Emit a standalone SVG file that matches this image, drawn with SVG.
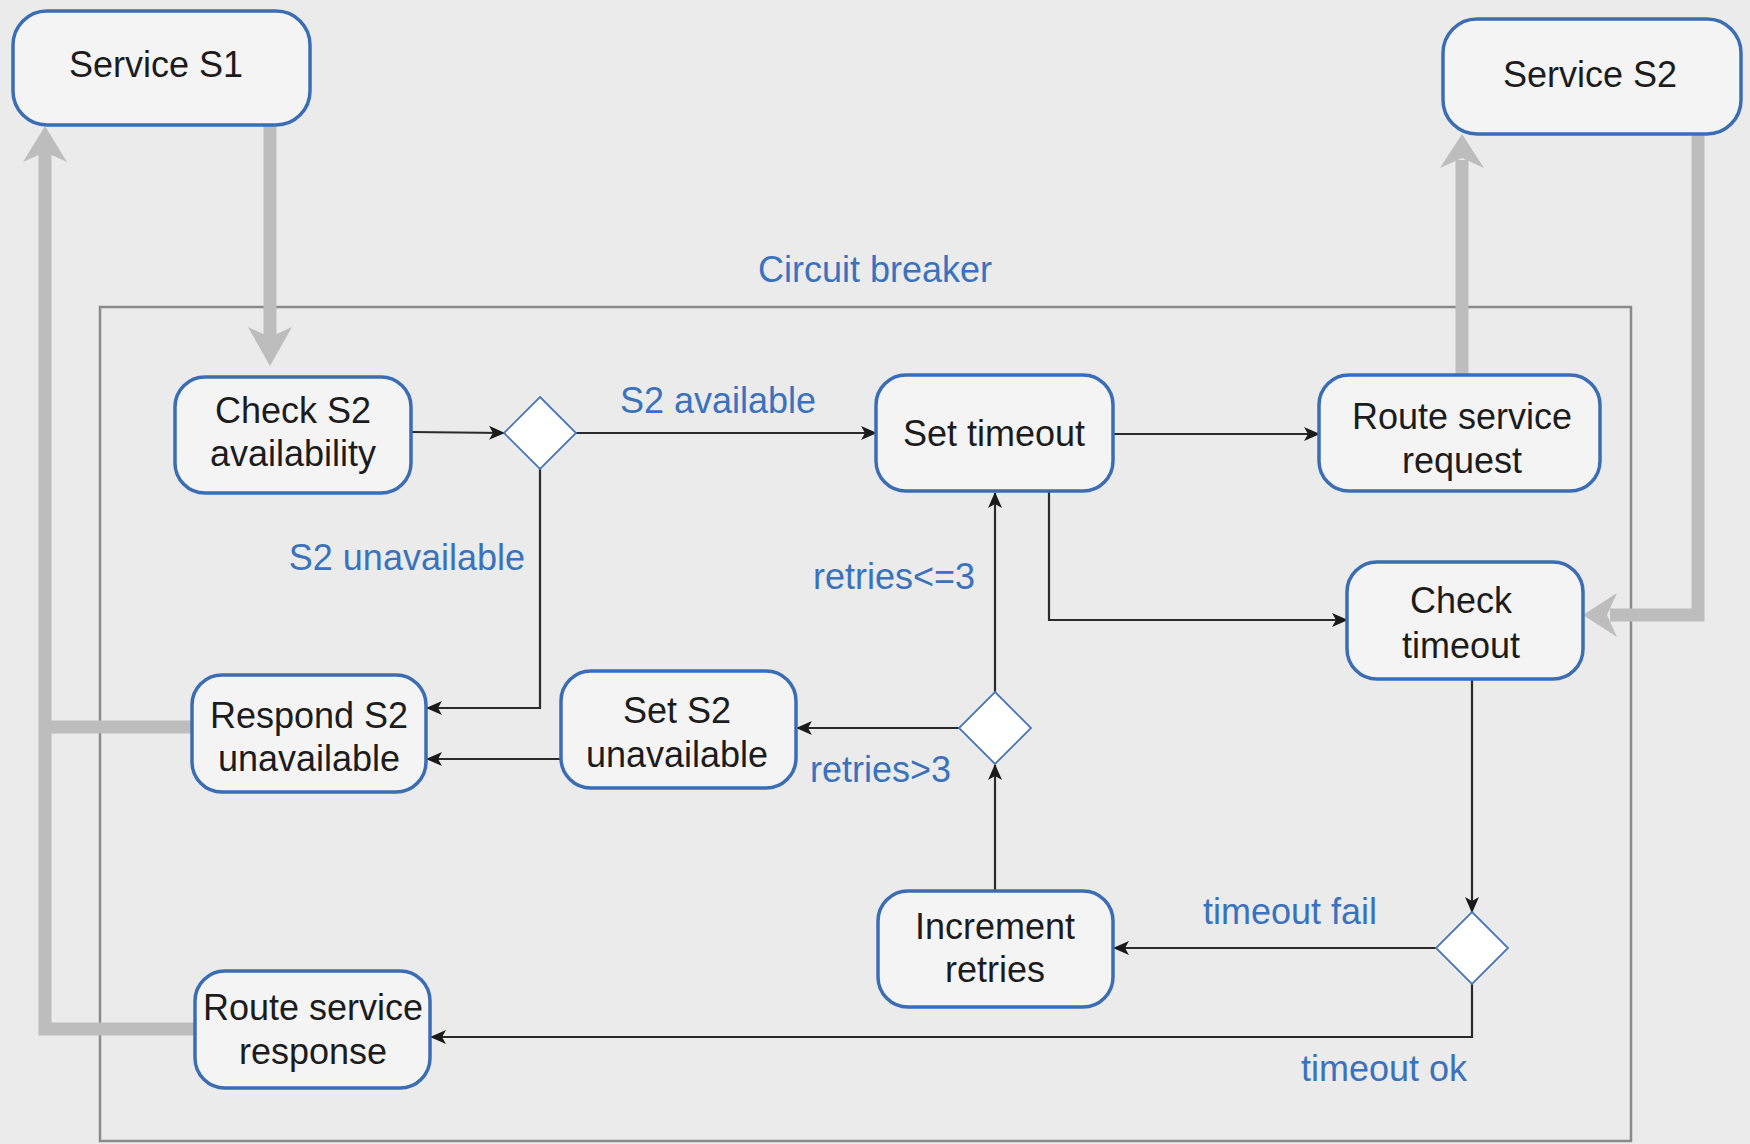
<svg xmlns="http://www.w3.org/2000/svg" width="1750" height="1144" viewBox="0 0 1750 1144">
<style>
.box{fill:#f4f4f5;stroke:#3b6db5;stroke-width:3.5}
.dia{fill:#ffffff;stroke:#4a78b8;stroke-width:1.8}
.t{font-family:"Liberation Sans",Arial,sans-serif;font-size:36px;fill:#1c1c1c;text-anchor:middle}
.lb{font-family:"Liberation Sans",Arial,sans-serif;font-size:36px;fill:#3a72bd}
.c{fill:none;stroke:#2a2a2a;stroke-width:2.2}
.g{fill:none;stroke:#bdbdbd;stroke-width:13}
.gh{fill:#bdbdbd}
</style>
<defs>
<marker id="ah" markerWidth="16" markerHeight="14" refX="15" refY="7" orient="auto" markerUnits="userSpaceOnUse">
<path d="M0,0 L16,7 L0,14 L4,7 z" fill="#1a1a1a"/>
</marker>
</defs>
<rect width="1750" height="1144" fill="#ebebeb"/>
<rect x="100" y="307" width="1531" height="834" fill="none" stroke="#8a8a8a" stroke-width="2.5"/>
<text class="lb" x="875" y="282" text-anchor="middle">Circuit breaker</text>

<g id="gray-flows">
<line class="g" x1="270" y1="125" x2="270" y2="340"/>
<polygon class="gh" points="248,327 270,337 292,327 270,366"/>
<polyline class="g" points="195,1029 45,1029 45,152"/>
<line class="g" x1="192" y1="727" x2="45" y2="727"/>
<polygon class="gh" points="23,162 45,152 67,162 45,126"/>
<line class="g" x1="1462" y1="375" x2="1462" y2="160"/>
<polygon class="gh" points="1440,168 1462,158 1484,168 1462,134"/>
<polyline class="g" points="1698,134 1698,615 1610,615"/>
<polygon class="gh" points="1617,593 1607,615 1617,637 1583,615"/>
</g>

<g id="connectors">
<line class="c" x1="411" y1="432" x2="504" y2="433" marker-end="url(#ah)"/>
<line class="c" x1="576" y1="433" x2="876" y2="433" marker-end="url(#ah)"/>
<polyline class="c" points="540,469 540,708 427,708" marker-end="url(#ah)"/>
<line class="c" x1="561" y1="759" x2="427" y2="759" marker-end="url(#ah)"/>
<line class="c" x1="959" y1="728" x2="797" y2="728" marker-end="url(#ah)"/>
<line class="c" x1="995" y1="692" x2="995" y2="493" marker-end="url(#ah)"/>
<line class="c" x1="995" y1="891" x2="995" y2="765" marker-end="url(#ah)"/>
<line class="c" x1="1113" y1="434" x2="1319" y2="434" marker-end="url(#ah)"/>
<polyline class="c" points="1049,491 1049,620 1347,620" marker-end="url(#ah)"/>
<line class="c" x1="1472" y1="679" x2="1472" y2="912" marker-end="url(#ah)"/>
<line class="c" x1="1436" y1="948" x2="1114" y2="948" marker-end="url(#ah)"/>
<polyline class="c" points="1472,984 1472,1037 431,1037" marker-end="url(#ah)"/>
<text class="lb" x="718" y="413" text-anchor="middle">S2 available</text>
<text class="lb" x="525" y="570" text-anchor="end">S2 unavailable</text>
<text class="lb" x="894" y="589" text-anchor="middle">retries&lt;=3</text>
<text class="lb" x="810" y="782">retries&gt;3</text>
<text class="lb" x="1290" y="924" text-anchor="middle">timeout fail</text>
<text class="lb" x="1384" y="1081" text-anchor="middle">timeout ok</text>
</g>

<g id="service-s1"><rect class="box" x="13" y="11" width="297" height="114" rx="34"/><text class="t" x="156" y="77">Service S1</text></g>
<g id="service-s2"><rect class="box" x="1443" y="19" width="298" height="115" rx="34"/><text class="t" x="1590" y="87">Service S2</text></g>
<g id="check-s2"><rect class="box" x="175" y="377" width="236" height="116" rx="30"/><text class="t" x="293" y="423">Check S2</text><text class="t" x="293" y="466">availability</text></g>
<g id="decision-availability"><polygon class="dia" points="540,397 576,433 540,469 504,433"/></g>
<g id="set-timeout"><rect class="box" x="876" y="375" width="237" height="116" rx="30"/><text class="t" x="994" y="446">Set timeout</text></g>
<g id="route-request"><rect class="box" x="1319" y="375" width="281" height="116" rx="30"/><text class="t" x="1462" y="429">Route service</text><text class="t" x="1462" y="473">request</text></g>
<g id="check-timeout"><rect class="box" x="1347" y="562" width="236" height="117" rx="30"/><text class="t" x="1461" y="613">Check</text><text class="t" x="1461" y="658">timeout</text></g>
<g id="respond-unavailable"><rect class="box" x="192" y="675" width="234" height="117" rx="30"/><text class="t" x="309" y="728">Respond S2</text><text class="t" x="309" y="771">unavailable</text></g>
<g id="set-unavailable"><rect class="box" x="561" y="671" width="235" height="117" rx="30"/><text class="t" x="677" y="723">Set S2</text><text class="t" x="677" y="767">unavailable</text></g>
<g id="decision-retries"><polygon class="dia" points="995,692 1031,728 995,764 959,728"/></g>
<g id="increment-retries"><rect class="box" x="878" y="891" width="235" height="116" rx="30"/><text class="t" x="995" y="939">Increment</text><text class="t" x="995" y="982">retries</text></g>
<g id="decision-timeout"><polygon class="dia" points="1472,912 1508,948 1472,984 1436,948"/></g>
<g id="route-response"><rect class="box" x="195" y="971" width="235" height="117" rx="30"/><text class="t" x="313" y="1020">Route service</text><text class="t" x="313" y="1064">response</text></g>
</svg>
